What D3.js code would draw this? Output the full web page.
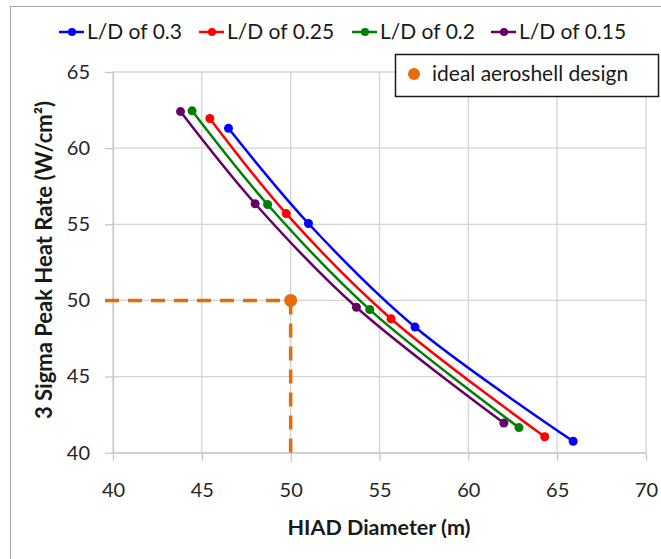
<!DOCTYPE html>
<html>
<head>
<meta charset="utf-8">
<script src="https://cdn.jsdelivr.net/npm/d3@7"></script>
<style>
  html, body { margin: 0; padding: 0; background: #fff; }
  svg { display: block; font-family: Lato, "Open Sans", sans-serif; }
</style>
</head>
<body>
<svg id="chart" width="661" height="559"></svg>
<script>
// HIAD diameter (m) vs. 3-sigma peak heat rate (W/cm²) for several L/D ratios
const seriesNames = ["L/D of 0.3", "L/D of 0.25", "L/D of 0.2", "L/D of 0.15"];
const seriesColors = ["#0000ff", "#ff0000", "#008000", "#660066"];

const diamLD03  = [46.5, 51.0, 57.0, 65.9];
const heatLD03  = [61.3, 55.05, 48.25, 40.75];
const diamLD025 = [45.45, 49.75, 55.65, 64.3];
const heatLD025 = [61.95, 55.7, 48.8, 41.05];
const diamLD02  = [44.45, 48.7, 54.45, 62.85];
const heatLD02  = [62.45, 56.3, 49.4, 41.65];
const diamLD015 = [43.8, 48.0, 53.7, 62.0];
const heatLD015 = [62.4, 56.35, 49.55, 41.95];

const idealDiam = 50;
const idealHeat = 50;
const idealLabel = "ideal aeroshell design";

const xTicks = [40, 45, 50, 55, 60, 65, 70];
const yTicks = [40, 45, 50, 55, 60, 65];
const xTitle = "HIAD Diameter (m)";
const yTitle = "3 Sigma Peak Heat Rate (W/cm²)";

const seriesX = [diamLD03, diamLD025, diamLD02, diamLD015];
const seriesY = [heatLD03, heatLD025, heatLD02, heatLD015];
const series = seriesNames.map((name, i) => ({
  name, color: seriesColors[i],
  points: seriesX[i].map((d, j) => ({ x: d, y: seriesY[i][j] }))
}));

const svg = d3.select("#chart");
const plot = { left: 113, right: 646, top: 72, bottom: 452.7 };

const x = d3.scaleLinear().domain([40, 70]).range([plot.left, plot.right]);
const y = d3.scaleLinear().domain([40, 65]).range([plot.bottom, plot.top]);

// outer chart frame
svg.append("rect")
  .attr("x", 10.5).attr("y", 6.5).attr("width", 660).attr("height", 600)
  .attr("fill", "none").attr("stroke", "#a6a6a6").attr("stroke-width", 1);

// gridlines
const grid = svg.append("g");
grid.selectAll("line.v").data(xTicks).join("line")
  .attr("x1", d => x(d)).attr("x2", d => x(d))
  .attr("y1", plot.top).attr("y2", plot.bottom)
  .attr("stroke", "#d4d4d4").attr("stroke-width", 1.3);
grid.selectAll("line.h").data(yTicks).join("line")
  .attr("y1", d => y(d)).attr("y2", d => y(d))
  .attr("x1", plot.left).attr("x2", plot.right)
  .attr("stroke", "#d4d4d4").attr("stroke-width", 1.3);

// axes
const xAxis = svg.append("g")
  .attr("transform", `translate(0,${plot.bottom})`)
  .call(d3.axisBottom(x).tickValues(xTicks).tickSize(8).tickPadding(22).tickSizeOuter(0));
const yAxis = svg.append("g")
  .attr("transform", `translate(${plot.left},0)`)
  .call(d3.axisLeft(y).tickValues(yTicks).tickSize(8).tickPadding(15).tickSizeOuter(0));
[xAxis, yAxis].forEach(a => {
  a.select(".domain").attr("stroke", "#c8c8c8").attr("stroke-width", 1.3);
  a.selectAll(".tick line").attr("stroke", "#c8c8c8").attr("stroke-width", 1.3);
  a.selectAll(".tick text").attr("fill", "#262626")
    .style("font-family", "Lato, sans-serif").style("font-size", "20px");
});

// axis titles
svg.append("text")
  .attr("x", 379).attr("y", 535)
  .attr("text-anchor", "middle").attr("font-weight", "bold")
  .attr("font-size", 21.5).attr("fill", "#1a1a1a")
  .text(xTitle);
svg.append("text")
  .attr("transform", `translate(52,260) rotate(-90)`)
  .attr("text-anchor", "middle").attr("font-weight", "bold")
  .attr("font-size", 22).attr("fill", "#1a1a1a")
  .text(yTitle);

// ideal design guides
const orange = "#e46c0a";
svg.append("line")
  .attr("x1", plot.left - 8).attr("x2", x(idealDiam))
  .attr("y1", y(idealHeat)).attr("y2", y(idealHeat))
  .attr("stroke", orange).attr("stroke-width", 3.5).attr("stroke-dasharray", "14,9");
svg.append("line")
  .attr("x1", x(idealDiam)).attr("x2", x(idealDiam))
  .attr("y1", y(idealHeat)).attr("y2", plot.bottom + 9)
  .attr("stroke", orange).attr("stroke-width", 3.5).attr("stroke-dasharray", "14,9");

// series lines and markers
const line = d3.line().x(d => x(d.x)).y(d => y(d.y)).curve(d3.curveCatmullRom.alpha(0.5));
series.forEach(s => {
  svg.append("path").datum(s.points)
    .attr("d", line).attr("fill", "none")
    .attr("stroke", s.color).attr("stroke-width", 2.5);
  svg.append("g").selectAll("circle").data(s.points).join("circle")
    .attr("cx", d => x(d.x)).attr("cy", d => y(d.y)).attr("r", 4.5)
    .attr("fill", s.color);
});

// ideal point
svg.append("circle")
  .attr("cx", x(idealDiam)).attr("cy", y(idealHeat)).attr("r", 6.5)
  .attr("fill", orange);

// top legend
const legendPos = [59, 199, 352, 491];
const legend = svg.append("g");
series.forEach((s, i) => {
  const g = legend.append("g").attr("transform", `translate(${legendPos[i]},32)`);
  g.append("line").attr("x1", 0).attr("x2", 25).attr("stroke", s.color).attr("stroke-width", 2.5);
  g.append("circle").attr("cx", 13).attr("r", 4).attr("fill", s.color);
  g.append("text").attr("x", 28).attr("y", 7)
    .attr("font-size", 21).attr("fill", "#1a1a1a").text(s.name);
});

// ideal design legend box
const box = svg.append("g");
box.append("rect")
  .attr("x", 395.5).attr("y", 54.5).attr("width", 263).attr("height", 42)
  .attr("fill", "#fff").attr("stroke", "#1a1a1a").attr("stroke-width", 1.5);
box.append("circle").attr("cx", 414).attr("cy", 74).attr("r", 6).attr("fill", orange);
box.append("text").attr("x", 432).attr("y", 81)
  .attr("font-size", 21).attr("fill", "#1a1a1a").text(idealLabel);
</script>
</body>
</html>
